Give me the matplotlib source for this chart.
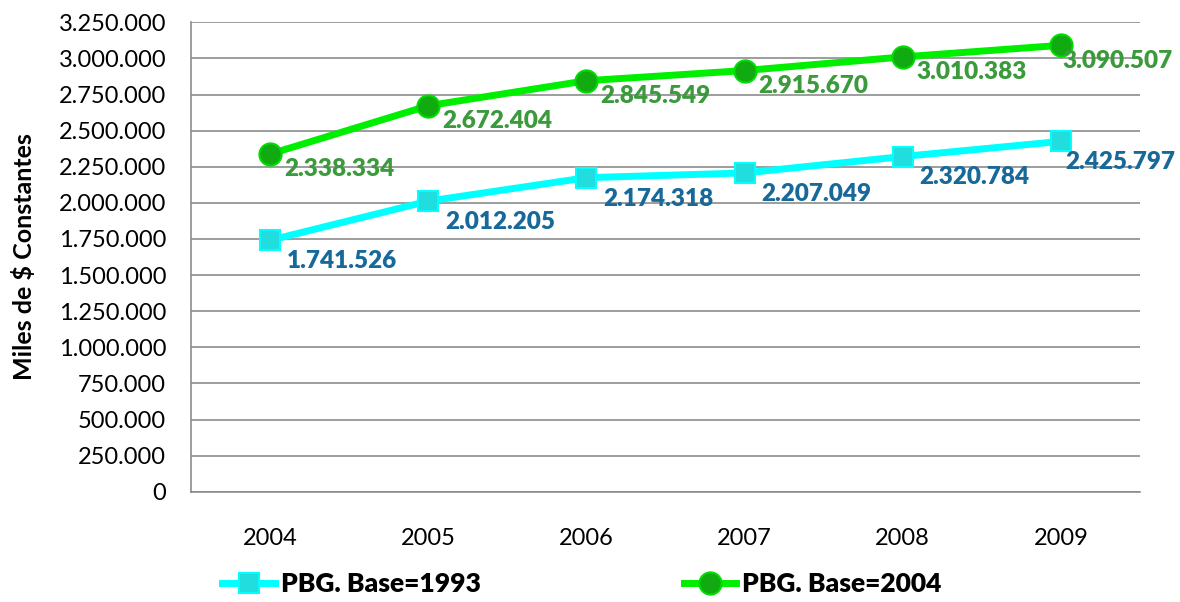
import matplotlib
matplotlib.use("Agg")
import matplotlib.pyplot as plt
from matplotlib.ticker import FuncFormatter, MultipleLocator

years = ["2004", "2005", "2006", "2007", "2008", "2009"]
base1993 = [1741526, 2012205, 2174318, 2207049, 2320784, 2425797]
base2004 = [2338334, 2672404, 2845549, 2915670, 3010383, 3090507]

plt.rcParams['font.family'] = ['Lato', 'DejaVu Sans']


def miles(v):
    return f"{int(round(v)):,}".replace(",", ".")


fig = plt.figure(figsize=(11.8, 6.02), dpi=100)
ax = fig.add_axes([0.162, 0.183, 0.804, 0.78])
x = list(range(len(years)))

ax.plot(x, base1993, color="#00ffff", lw=5, marker="s", ms=15,
        mfc="#22dddd", mec="#00ffff", mew=1.5, label="PBG. Base=1993", zorder=3)
ax.plot(x, base2004, color="#00ee00", lw=5, marker="o", ms=16,
        mfc="#11aa11", mec="#00dd00", mew=1.5, label="PBG. Base=2004", zorder=3)

# last label sits closer to the marker so it stays inside the figure
for i, v in enumerate(base1993):
    dx = 3 if i == len(x) - 1 else 12
    ax.annotate(miles(v), (i, v), xytext=(dx, -15), textcoords="offset points",
                ha="left", va="center", color="#17699a", fontsize=17.5, fontweight="heavy")
for i, v in enumerate(base2004):
    dx = 1 if i == len(x) - 1 else 10
    ax.annotate(miles(v), (i, v), xytext=(dx, -11), textcoords="offset points",
                ha="left", va="center", color="#3b9a3b", fontsize=17.5, fontweight="heavy")

ax.set_xlim(-0.5, len(years) - 0.5)
ax.set_ylim(0, 3250000)
ax.yaxis.set_major_locator(MultipleLocator(250000))
ax.yaxis.set_major_formatter(FuncFormatter(lambda v, p: miles(v)))
ax.set_xticks(x)
ax.set_xticklabels(years)
ax.tick_params(axis="both", labelsize=17, length=0)
ax.tick_params(axis="y", pad=18)
ax.tick_params(axis="x", pad=26)
ax.grid(axis="y", color="#8c8c8c", lw=1.2)
ax.set_axisbelow(True)
for s in ["top", "right"]:
    ax.spines[s].set_visible(False)
for s in ["left", "bottom"]:
    ax.spines[s].set_color("#8c8c8c")
    ax.spines[s].set_linewidth(1.2)

ax.set_ylabel("Miles de $ Constantes", fontsize=18, fontweight="bold", labelpad=16)

fig.legend(loc="lower center", bbox_to_anchor=(0.493, -0.03), ncol=2, frameon=False,
           columnspacing=7.7, handlelength=2.0, handletextpad=0.2,
           prop={"size": 19, "weight": "heavy"})

fig.savefig("out.png", dpi=100)
